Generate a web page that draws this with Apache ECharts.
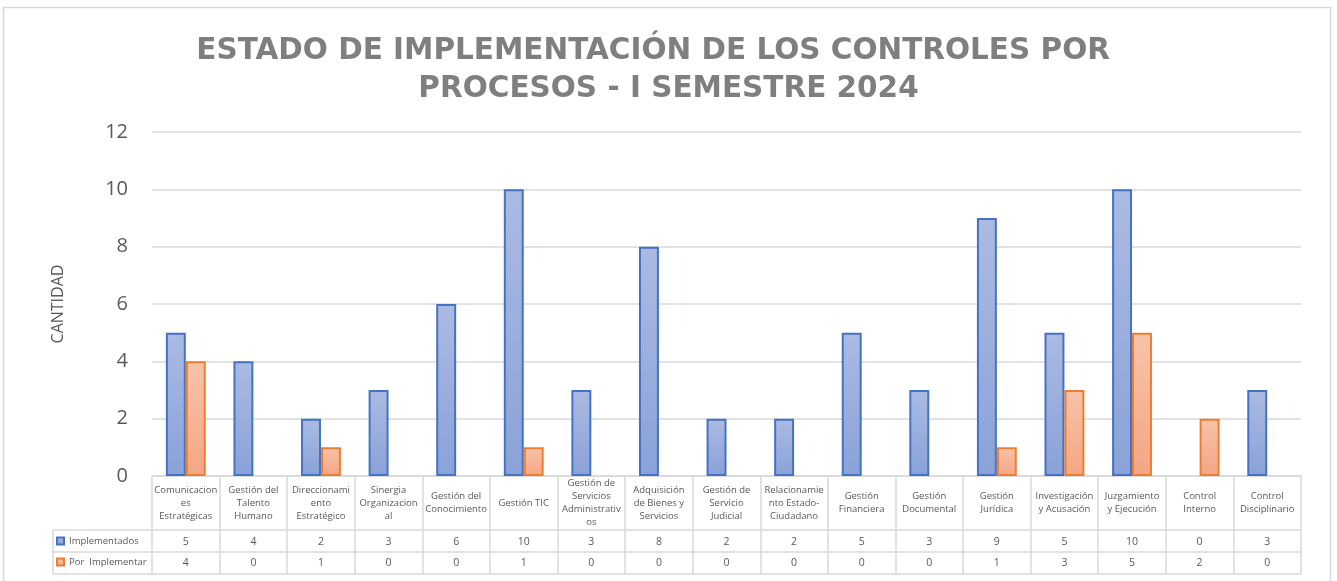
<!DOCTYPE html>
<html>
<head>
<meta charset="utf-8">
<script src="https://cdn.jsdelivr.net/npm/echarts@6/dist/echarts.min.js"></script>
<style>
html,body{margin:0;padding:0;background:#fff;}
#chart{width:1337px;height:581px;}
</style>
</head>
<body>
<div id="chart"></div>
<script>
// ---- data ----
var categories = [
  'Comunicaciones Estratégicas', 'Gestión del Talento Humano', 'Direccionamiento Estratégico',
  'Sinergia Organizacional', 'Gestión del Conocimiento', 'Gestión TIC',
  'Gestión de Servicios Administrativos', 'Adquisición de Bienes y Servicios',
  'Gestión de Servicio Judicial', 'Relacionamiento Estado-Ciudadano', 'Gestión Financiera',
  'Gestión Documental', 'Gestión Jurídica', 'Investigación y Acusación',
  'Juzgamiento y Ejecución', 'Control Interno', 'Control Disciplinario'
];
// category labels as wrapped in the data table
var categoryLabels = [
  'Comunicacion\nes\nEstratégicas', 'Gestión del\nTalento\nHumano', 'Direccionami\nento\nEstratégico',
  'Sinergia\nOrganizacion\nal', 'Gestión del\nConocimiento', 'Gestión TIC',
  'Gestión de\nServicios\nAdministrativ\nos', 'Adquisición\nde Bienes y\nServicios',
  'Gestión de\nServicio\nJudicial', 'Relacionamie\nnto Estado-\nCiudadano', 'Gestión\nFinanciera',
  'Gestión\nDocumental', 'Gestión\nJurídica', 'Investigación\ny Acusación',
  'Juzgamiento\ny Ejecución', 'Control\nInterno', 'Control\nDisciplinario'
];
var implementados   = [5, 4, 2, 3, 6, 10, 3, 8, 2, 2, 5, 3, 9, 5, 10, 0, 3];
var porImplementar  = [4, 0, 1, 0, 0, 1, 0, 0, 0, 0, 0, 0, 1, 3, 5, 2, 0];
var yTicks = [0, 2, 4, 6, 8, 10, 12];
var seriesNames = ['Implementados', 'Por  Implementar'];
var titleText = 'ESTADO DE IMPLEMENTACIÓN DE LOS CONTROLES POR   \nPROCESOS - I SEMESTRE 2024';
var yAxisName = 'CANTIDAD';

// ---- chart ----
var chart = echarts.init(document.getElementById('chart'));
var FONT = '"Open Sans", "Noto Sans", sans-serif';
var GRID_LEFT = 152, GRID_RIGHT = 36, GRID_TOP = 132, GRID_BOTTOM = 105;
var W = 1337, H = 581;
var axisY = H - GRID_BOTTOM;           // 476
var row1 = 530, row2 = 552, row3 = 574, tableLeft = 53;
var lineColor = '#d9d9d9';
var textColor = '#595959';

function grad(top, bottom) {
  return new echarts.graphic.LinearGradient(0, 0, 0, 1, [
    {offset: 0, color: top}, {offset: 1, color: bottom}
  ]);
}
function noZero(arr) { return arr.map(function (v) { return v === 0 ? '-' : v; }); }

var option = {
  backgroundColor: '#ffffff',
  animation: false,
  title: {
    text: titleText,
    left: 'center',
    top: 27,
    textStyle: {
      fontFamily: '"DejaVu Sans", Verdana, sans-serif', fontSize: 29.5, fontWeight: 'bold', color: '#7f7f7f', lineHeight: 38
    }
  },
  legend: {
    orient: 'vertical',
    left: 56,
    top: row1 + 6,
    padding: 0,
    icon: 'rect',
    itemWidth: 7,
    itemHeight: 7,
    itemGap: 11,
    textStyle: { fontFamily: FONT, fontSize: 9.5, color: textColor },
    data: seriesNames
  },
  grid: { left: GRID_LEFT, right: GRID_RIGHT, top: GRID_TOP, bottom: GRID_BOTTOM },
  xAxis: [
    {
      type: 'category',
      data: categoryLabels,
      position: 'bottom',
      axisLine: { show: true, lineStyle: { color: lineColor, width: 1.5 } },
      axisTick: { show: true, interval: 0, length: row3 - axisY, lineStyle: { color: lineColor, width: 1.5 } },
      axisLabel: {
        interval: 0, margin: 27, verticalAlign: 'middle', lineHeight: 13,
        fontFamily: FONT, fontSize: 9.5, color: textColor
      },
      splitLine: { show: false }
    },
    {
      type: 'category',
      data: implementados.map(String),
      position: 'bottom',
      offset: 0,
      axisLine: { show: false }, axisTick: { show: false },
      axisLabel: { interval: 0, margin: 66, verticalAlign: 'middle', fontFamily: FONT, fontSize: 10.5, color: textColor }
    },
    {
      type: 'category',
      data: porImplementar.map(String),
      position: 'bottom',
      offset: 0,
      axisLine: { show: false }, axisTick: { show: false },
      axisLabel: { interval: 0, margin: 87, verticalAlign: 'middle', fontFamily: FONT, fontSize: 10.5, color: textColor }
    }
  ],
  yAxis: {
    type: 'value',
    min: yTicks[0],
    max: yTicks[yTicks.length - 1],
    interval: 2,
    name: yAxisName,
    nameLocation: 'middle',
    nameGap: 86,
    nameTextStyle: { fontFamily: FONT, fontSize: 16, color: textColor },
    axisLine: { show: false },
    axisTick: { show: false },
    axisLabel: { fontFamily: FONT, fontSize: 20, color: textColor, margin: 24 },
    splitLine: { lineStyle: { color: lineColor, width: 1.5 } }
  },
  series: [
    {
      name: seriesNames[0],
      type: 'bar',
      xAxisIndex: 0,
      data: noZero(implementados),
      barGap: '0%',
      barCategoryGap: '41%',
      itemStyle: { color: grad('#abbae2', '#8aa2d8'), borderColor: '#4472c4', borderWidth: 2 }
    },
    {
      name: seriesNames[1],
      type: 'bar',
      xAxisIndex: 0,
      data: noZero(porImplementar),
      barGap: '0%',
      barCategoryGap: '41%',
      itemStyle: { color: grad('#f8c3a8', '#f4a684'), borderColor: '#ed7d31', borderWidth: 2 }
    }
  ],
  graphic: [
    { type: 'rect', shape: { x: 3.5, y: 7.5, width: 1327, height: 620 }, style: { fill: null, stroke: lineColor, lineWidth: 1.5 }, silent: true, z: -1 },
    { type: 'line', shape: { x1: tableLeft, y1: row1, x2: W - GRID_RIGHT, y2: row1 }, style: { stroke: lineColor, lineWidth: 1.5 }, silent: true },
    { type: 'line', shape: { x1: tableLeft, y1: row2, x2: W - GRID_RIGHT, y2: row2 }, style: { stroke: lineColor, lineWidth: 1.5 }, silent: true },
    { type: 'line', shape: { x1: tableLeft, y1: row3, x2: W - GRID_RIGHT, y2: row3 }, style: { stroke: lineColor, lineWidth: 1.5 }, silent: true },
    { type: 'line', shape: { x1: tableLeft, y1: row1, x2: tableLeft, y2: row3 }, style: { stroke: lineColor, lineWidth: 1.5 }, silent: true }
  ]
};
chart.setOption(option);
</script>
</body>
</html>
